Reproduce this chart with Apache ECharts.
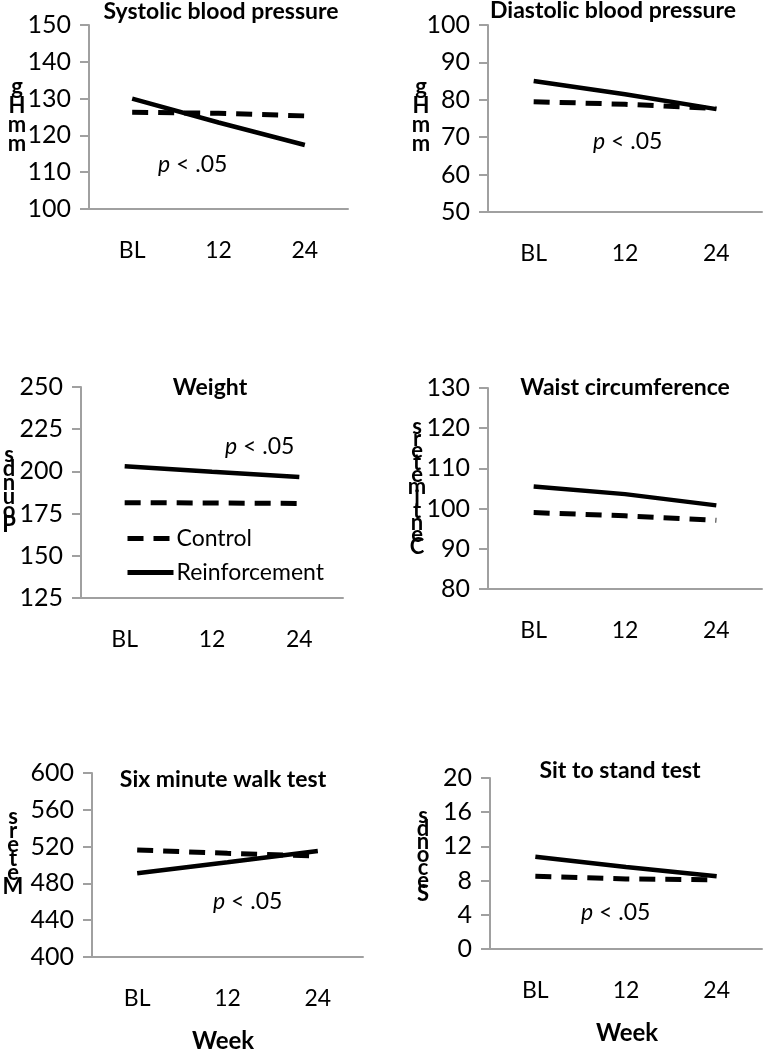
<!DOCTYPE html>
<html><head><meta charset="utf-8">
<script src="https://cdn.jsdelivr.net/npm/echarts@6/dist/echarts.min.js"></script>
<style>html,body{margin:0;padding:0;background:#fff}#c{width:765px;height:1050px}</style>
</head><body><div id="c"></div>
<script>
const weeks = ['BL', '12', '24'];
const sbpControl = [126.3, 126, 125.3];
const sbpReinf = [130, 123.5, 117.4];
const dbpControl = [79.5, 78.8, 77.7];
const dbpReinf = [85, 81.5, 77.5];
const weightControl = [181.5, 181.3, 181];
const weightReinf = [203, 199.8, 196.7];
const waistControl = [99, 98.2, 97.1];
const waistReinf = [105.5, 103.6, 100.8];
const walkControl = [516.3, 512.7, 509.8];
const walkReinf = [491, 503, 515.2];
const sitControl = [8.5, 8.2, 8.1];
const sitReinf = [10.8, 9.6, 8.5];

const titles = ['Systolic blood pressure', 'Diastolic blood pressure', 'Weight', 'Waist circumference', 'Six minute walk test', 'Sit to stand test'];
const yNames = ['mmHg', 'mmHg', 'Pounds', 'Centimeters', 'Meters', 'Seconds'];
const yMin = [100, 50, 125, 80, 400, 0];
const yMax = [150, 100, 250, 130, 600, 20];
const yStep = [10, 10, 25, 10, 40, 4];
const controlSets = [sbpControl, dbpControl, weightControl, waistControl, walkControl, sitControl];
const reinfSets = [sbpReinf, dbpReinf, weightReinf, waistReinf, walkReinf, sitReinf];

const FONT = 'Lato';
const grids = [
  {left: 89, top: 25, width: 259, height: 184},
  {left: 488, top: 25, width: 274, height: 187},
  {left: 81, top: 387, width: 262, height: 211},
  {left: 488, top: 388, width: 274, height: 201},
  {left: 92, top: 773, width: 271, height: 184},
  {left: 490, top: 778, width: 272, height: 171}
];
const axisColor = '#a0a0a0';

const xAxes = grids.map((g, i) => ({
  type: 'category', gridIndex: i, data: weeks, boundaryGap: true,
  axisLine: {lineStyle: {color: axisColor, width: 2}},
  axisTick: {length: 7, lineStyle: {color: axisColor, width: 2}},
  axisLabel: {color: '#000', fontFamily: FONT, fontSize: 23, margin: 30}
}));
const yAxes = grids.map((g, i) => ({
  type: 'value', gridIndex: i, min: yMin[i], max: yMax[i], interval: yStep[i],
  splitLine: {show: false},
  axisLine: {show: true, lineStyle: {color: axisColor, width: 2}},
  axisTick: {show: true, length: 9, lineStyle: {color: axisColor, width: 2}},
  axisLabel: {color: '#000', fontFamily: FONT, fontSize: 25, margin: 18}
}));
const series = [];
grids.forEach((g, i) => {
  series.push({
    name: 'Control', type: 'line', xAxisIndex: i, yAxisIndex: i, data: controlSets[i],
    symbol: 'none', lineStyle: {color: '#000', width: 5, type: [16, 10]}, itemStyle: {color: '#000'}
  });
  series.push({
    name: 'Reinforcement', type: 'line', xAxisIndex: i, yAxisIndex: i, data: reinfSets[i],
    symbol: 'none', lineStyle: {color: '#000', width: 4.5, type: 'solid'}, itemStyle: {color: '#000'}
  });
});

const titlePos = [[221, 12], [613, 11], [210, 388], [625, 388], [223, 780], [620, 771]];
const yNamePos = [[17, 115, 19], [421, 115, 19], [9, 490, 14], [417, 487, 12], [13, 852, 14], [423, 855, 13]];
const pPos = [[158, 165], [593, 142], [225, 447], null, [213, 902], [581, 913]];
const weekPos = [[223, 1041], [627, 1033]];

const graphic = [];
titles.forEach((t, i) => {
  graphic.push({type: 'text', x: titlePos[i][0], y: titlePos[i][1],
    style: {text: t, font: 'bold 23px ' + FONT, fill: '#000', align: 'center', verticalAlign: 'middle'}});
});
yNames.forEach((n, i) => {
  const stacked = n.split('').reverse().join('\n');
  graphic.push({type: 'text', x: yNamePos[i][0], y: yNamePos[i][1],
    style: {text: stacked, font: 'bold 22px ' + FONT, lineHeight: yNamePos[i][2], fill: '#000', align: 'center', verticalAlign: 'middle'}});
});
pPos.forEach((p) => {
  if (!p) return;
  graphic.push({type: 'text', x: p[0], y: p[1],
    style: {text: '{i|p} < .05', fill: '#000', verticalAlign: 'middle',
      rich: {i: {fontStyle: 'italic', fontFamily: FONT, fontSize: 23}},
      fontFamily: FONT, fontSize: 23}});
});
weekPos.forEach((p) => {
  graphic.push({type: 'text', x: p[0], y: p[1],
    style: {text: 'Week', font: 'bold 24px ' + FONT, fill: '#000', align: 'center', verticalAlign: 'middle'}});
});

const chart = echarts.init(document.getElementById('c'), null, {renderer: 'canvas'});
chart.setOption({
  animation: false,
  backgroundColor: '#fff',
  grid: grids,
  xAxis: xAxes,
  yAxis: yAxes,
  legend: {
    data: ['Control', 'Reinforcement'], orient: 'vertical', left: 120, top: 522,
    itemWidth: 46, itemHeight: 14, itemGap: 11,
    itemStyle: {opacity: 0},
    lineStyle: {width: 5},
    textStyle: {fontFamily: FONT, fontSize: 23, color: '#000', padding: [0, 0, 0, -2]},
    selectedMode: false
  },
  graphic: graphic,
  series: series
});
</script></body></html>
